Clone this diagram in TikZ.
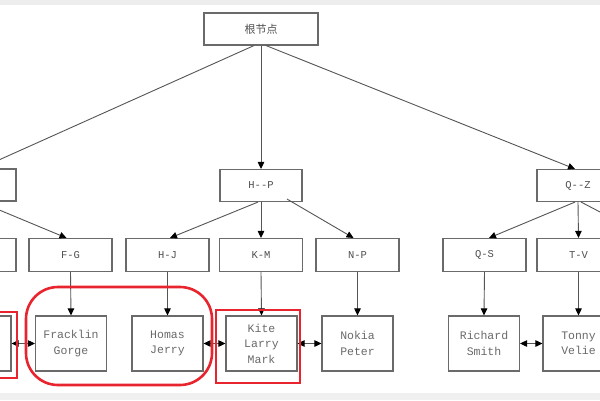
\documentclass[tikz,border=0pt]{standalone}
\usepackage{fontspec}
\setmonofont{Liberation Mono}
\newfontfamily\cjk{Noto Sans CJK SC}
\usetikzlibrary{arrows.meta}
\definecolor{boxgray}{HTML}{6A6A6A}
\definecolor{lngray}{HTML}{555555}
\definecolor{txtgray}{HTML}{505050}
\definecolor{leaftxt}{HTML}{6A6A6A}
\definecolor{hlred}{HTML}{E8252E}
\tikzset{
  box/.style={draw=boxgray, line width=1.1pt, minimum width=82pt, minimum height=32pt,
    inner sep=0pt, text=txtgray, font=\ttfamily\fontsize{10.5}{12}\selectfont},
  midbox/.style={box, minimum width=83pt, minimum height=33pt},
  leaf/.style={box, minimum width=71pt, minimum height=55pt, align=center,
    text=leaftxt, font=\ttfamily\fontsize{11.5}{15.5}\selectfont},
  tip/.tip={Triangle[length=7pt,width=6.5pt,color=black]},
  arr/.style={draw=lngray, line width=0.9pt, -tip},
  darr/.style={draw=lngray, line width=0.9pt, tip-tip},
  hl/.style={draw=hlred, line width=2.6pt}
}
\begin{document}
\begin{tikzpicture}[x=1pt,y=-1pt]
\useasboundingbox (0,0) rectangle (600,400);
\clip (0,0) rectangle (600,400);
\fill[white] (0,0) rectangle (600,400);
\fill[gray!14] (0,0) rectangle (600,5);
\fill[gray!12] (0,393) rectangle (600,400);

% root
\node[box, minimum width=114pt, font=\cjk\fontsize{11}{12}\selectfont] (root) at (261,29) {根节点};

% level 2
\node[box] (L2a) at (-25,185) {};
\node[box] (HP) at (261,185.5) {H--P};
\node[box] (QZ) at (578,185.5) {Q--Z};

% level 3
\node[midbox] (L3a) at (-25.5,255) {};
\node[midbox] (FG) at (70.5,255) {F-G};
\node[midbox] (HJ) at (167.5,255) {H-J};
\node[midbox] (KM) at (261,255) {K-M};
\node[midbox] (NP) at (357.5,255) {N-P};
\node[midbox] (QS) at (484.5,255) {Q-S};
\node[midbox] (TV) at (578.5,255) {T-V};
\coordinate (WZ) at (650,238);

% level 4
\node[leaf] (L4a) at (-24.5,343.5) {};
\node[leaf] (FR) at (71,343.5) {Fracklin\\Gorge};
\node[leaf] (HO) at (167.5,343.5) {Homas\\Jerry};
\node[leaf] (KI) at (261.5,343.5) {Kite\\Larry\\Mark};
\node[leaf] (NO) at (357.5,343.5) {Nokia\\Peter};
\node[leaf] (RI) at (484,343.5) {Richard\\Smith};
\node[leaf] (TO) at (578.5,343.5) {Tonny\\Velie};

% root connectors
\draw[arr] ([xshift=-7pt]root.south) -- ([xshift=5pt]L2a.north);
\draw[arr] (root.south) -- (HP.north);
\draw[arr] ([xshift=5pt]root.south) -- ([xshift=-3pt]QZ.north);

% level 2 -> level 3
\draw[arr] ([xshift=4pt]L2a.south) -- ([xshift=-4pt]FG.north);
\draw[arr] ([xshift=-3pt]HP.south) -- ([xshift=2.5pt]HJ.north);
\draw[arr] (HP.south) -- (KM.north);
\draw[arr] ([xshift=26pt,yshift=3pt]HP.south) -- ([xshift=-4pt]NP.north);
\draw[arr] ([xshift=-3pt]QZ.south) -- ([xshift=4.5pt]QS.north);
\draw[arr] (QZ.south) -- (TV.north);
\draw[arr] ([xshift=3pt]QZ.south) -- (WZ);

% level 3 -> level 4
\draw[arr] (FG.south) -- (FR.north);
\draw[arr] (HJ.south) -- (HO.north);
\draw[arr] (KM.south) -- (KI.north);
\draw[arr] (NP.south) -- (NO.north);
\draw[arr] (QS.south) -- (RI.north);
\draw[arr] (TV.south) -- (TO.north);

% siblings
\draw[darr] (L4a.east) -- (FR.west);
\draw[darr] (HO.east) -- (KI.west);
\draw[darr] (KI.east) -- (NO.west);
\draw[darr] (RI.east) -- (TO.west);

% highlights
\draw[hl] (-70,312) rectangle (17,378);
\draw[hl] (216,310) rectangle (300,383);
\draw[hl, rounded corners=32pt] (26,287) rectangle (212,385);
\end{tikzpicture}
\end{document}
